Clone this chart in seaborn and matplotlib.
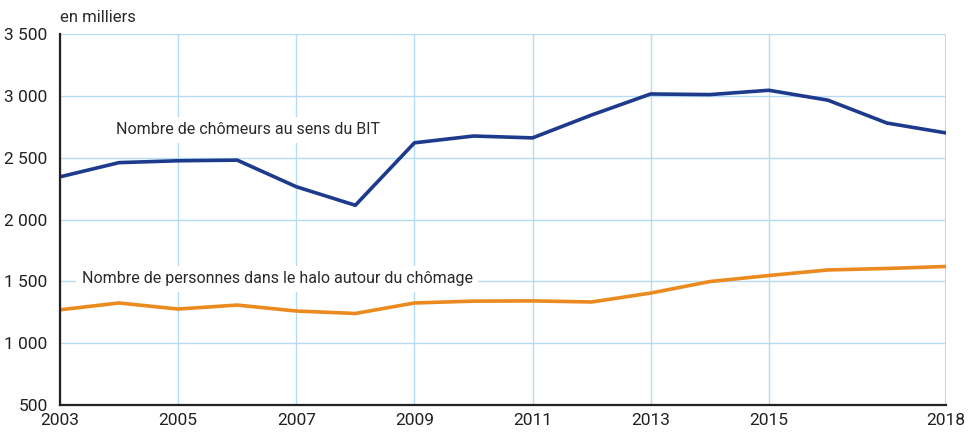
import pandas as pd
import matplotlib
matplotlib.use("Agg")
import matplotlib.pyplot as plt
import matplotlib.ticker as mticker
import seaborn as sns

years = list(range(2003, 2019))
chomeurs_bit = [2345, 2460, 2475, 2480, 2265, 2115, 2620, 2675, 2660, 2845,
                3015, 3010, 3045, 2965, 2780, 2700]
halo = [1270, 1325, 1276, 1308, 1260, 1240, 1325, 1340, 1342, 1333,
        1405, 1498, 1547, 1592, 1604, 1620]
x_ticks = [2003, 2005, 2007, 2009, 2011, 2013, 2015, 2018]
y_ticks = [500, 1000, 1500, 2000, 2500, 3000, 3500]

df = pd.DataFrame({"annee": years, "bit": chomeurs_bit, "halo": halo})

sns.set_theme(style="white")
plt.rcParams["font.family"] = ["Roboto", "DejaVu Sans"]

color_bit = "#1d3a8c"
color_halo = "#ea8a1f"
color_grid = "#b5dcf4"
color_text = "#2a2a2a"

fig = plt.figure(figsize=(9.7, 4.32), dpi=100)
ax = fig.add_axes([60 / 970, 1 - 405 / 432, 886 / 970, (405 - 34) / 432])

sns.lineplot(data=df, x="annee", y="bit", color=color_bit, linewidth=2.6, ax=ax)
sns.lineplot(data=df, x="annee", y="halo", color=color_halo, linewidth=2.6, ax=ax)

ax.set_xlim(2003, 2018)
ax.set_ylim(500, 3500)
ax.set_xticks(x_ticks)
ax.set_yticks(y_ticks)
ax.yaxis.set_major_formatter(mticker.FuncFormatter(lambda v, p: f"{int(v):,}".replace(",", " ")))
ax.set_xlabel("")
ax.set_ylabel("")
ax.tick_params(axis="both", length=0, labelsize=12.5, colors="#222222")
ax.tick_params(axis="x", pad=6)
ax.tick_params(axis="y", pad=9)

ax.grid(True, color=color_grid, linewidth=1)
ax.set_axisbelow(True)
for side in ["top", "right"]:
    ax.spines[side].set_visible(False)
ax.axvline(2018, color=color_grid, linewidth=1.5, zorder=0)
ax.spines["left"].set_color("#222222")
ax.spines["bottom"].set_color("#222222")
ax.spines["left"].set_linewidth(1.6)
ax.spines["bottom"].set_linewidth(1.6)

box = dict(facecolor="white", edgecolor="none", pad=4)
ax.text(2006.18, 2724, "Nombre de chômeurs au sens du BIT", ha="center", va="center",
        fontsize=11.5, color=color_text, bbox=box)
ax.text(2006.68, 1519, "Nombre de personnes dans le halo autour du chômage", ha="center",
        va="center", fontsize=11.5, color=color_text, bbox=box)

fig.text(60 / 970, 1 - 17 / 432, "en milliers", ha="left", va="center",
         fontsize=12, color=color_text)

fig.savefig("out.png", dpi=100)
